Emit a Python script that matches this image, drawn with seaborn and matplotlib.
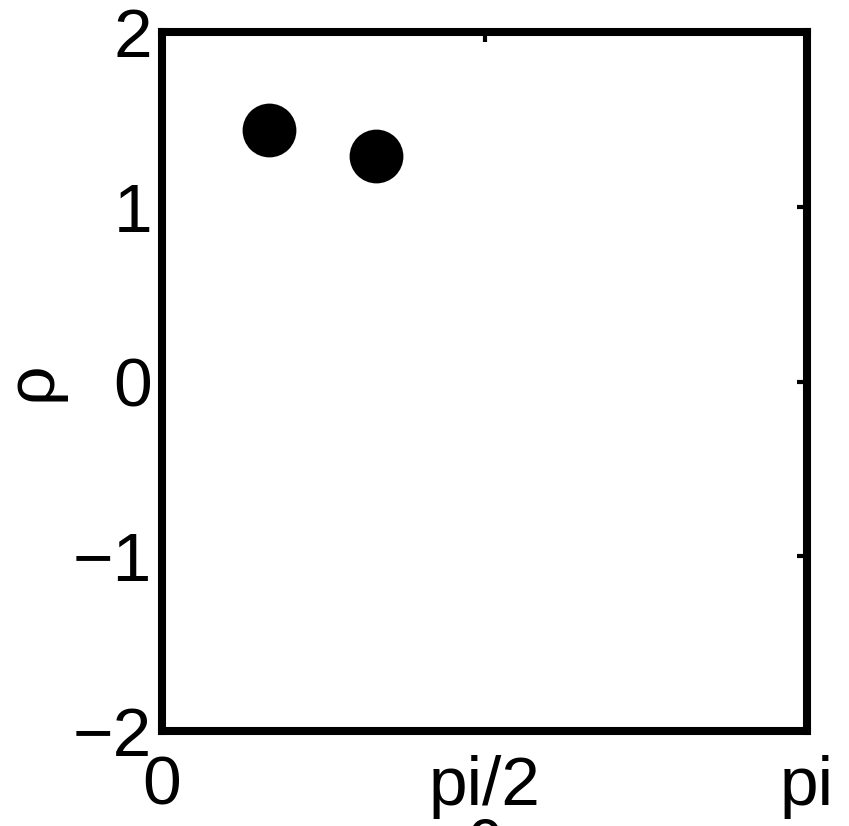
import numpy as np
import pandas as pd
import matplotlib
matplotlib.use("Agg")
import matplotlib.pyplot as plt
import seaborn as sns

# Measured points in (theta, rho)
theta = [0.52, 1.04]
rho = [1.44, 1.29]

xtick_vals = [0, np.pi / 2, np.pi]
xtick_labels = ["0", "pi/2", "pi"]
ytick_vals = [-2, -1, 0, 1, 2]
ytick_labels = ["\u22122", "\u22121", "0", "1", "2"]

sns.set_theme(style="white")
plt.rcParams["font.family"] = ["Liberation Sans", "DejaVu Sans"]

df = pd.DataFrame({"theta": theta, "rho": rho})

fig = plt.figure(figsize=(8.49, 8.26), dpi=100)
ax = fig.add_axes([162 / 849, 1 - 731 / 826, (807 - 162) / 849, (731 - 32) / 826])

sns.scatterplot(data=df, x="theta", y="rho", ax=ax, s=1500, color="black",
                edgecolor="black", linewidth=0, legend=False)

ax.set_xlim(0, np.pi)
ax.set_ylim(-2, 2)
ax.set_xticks(xtick_vals)
ax.set_xticklabels(xtick_labels)
ax.set_yticks(ytick_vals)
ax.set_yticklabels(ytick_labels)

for sp in ax.spines.values():
    sp.set_visible(True)
    sp.set_linewidth(5.8)
    sp.set_color("black")

ax.tick_params(axis="both", which="major", direction="in", length=7, width=3,
               color="black", labelsize=50, labelcolor="black",
               top=True, right=True)
ax.tick_params(axis="x", pad=17)
ax.tick_params(axis="y", pad=7)

ax.set_xlabel("\u03b8", fontsize=50, labelpad=0, color="black")
ax.set_ylabel("\u03c1", fontsize=50, labelpad=6, color="black")

fig.savefig("out.png", dpi=100)
